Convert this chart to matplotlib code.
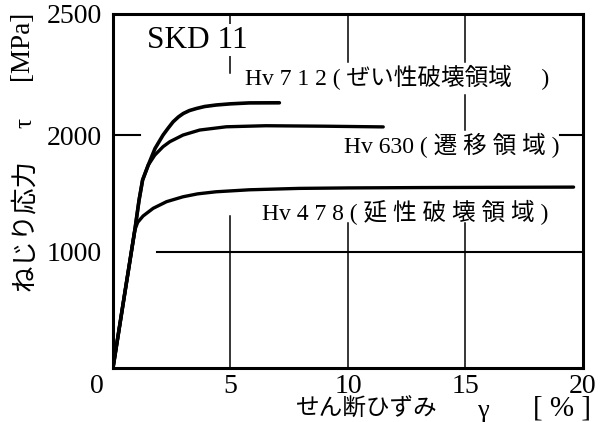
import matplotlib
matplotlib.use("Agg")
import matplotlib.pyplot as plt
from matplotlib.transforms import ScaledTranslation

# ---- data ----
hv478_strain = [0, 0.5, 0.93, 1.05, 1.28, 1.71, 2.28, 2.98, 3.6, 4.39, 5.8, 7.92, 10.0, 13.0, 16.0, 19.6]
hv478_stress = [0, 640, 1185, 1250, 1305, 1371, 1428, 1470, 1495, 1513, 1530, 1542, 1546, 1549, 1551, 1553]

hv630_strain = [0, 0.5, 0.93, 1.11, 1.26, 1.5, 1.78, 2.13, 2.42, 2.98, 3.69, 4.82, 6.5, 9.0, 11.5]
hv630_stress = [0, 640, 1185, 1442, 1614, 1742, 1828, 1900, 1943, 2000, 2043, 2071, 2080, 2076, 2070]

hv712_strain = [0, 0.5, 0.93, 1.11, 1.26, 1.5, 1.79, 2.13, 2.35, 2.56, 2.78, 2.99, 3.25, 3.55, 3.9, 4.39, 5.0, 5.8, 7.08]
hv712_stress = [0, 640, 1185, 1442, 1614, 1742, 1885, 2000, 2060, 2114, 2155, 2185, 2210, 2228, 2245, 2258, 2268, 2276, 2277]

x_ticks = [0, 5, 10, 15, 20]
x_tick_labels = ["0", "5", "10", "15", "20"]
y_ticks = [1000, 2000]
y_tick_labels = ["1000", "2000"]
y_top_label = "2500"

label_712 = "Hv 7 1 2 ( ぜい性破壊領域　 )"
label_630 = "Hv 630 ( 遷 移 領 域 )"
label_478 = "Hv 4 7 8 ( 延 性 破 壊 領 域 )"
title_text = "SKD 11"

SERIF = "Liberation Serif"
CJK = "Noto Sans CJK JP"
MIX = [SERIF, CJK]

Y_TOP = 3040

fig = plt.figure(figsize=(6.01, 4.22), dpi=100)
ax = fig.add_axes([0.188, 0.128, 0.782, 0.839])
ax.set_xlim(0, 20)
ax.set_ylim(0, Y_TOP)

lw = 2.4
ax.plot(hv478_strain, hv478_stress, color="black", lw=lw, solid_capstyle="round",
        solid_joinstyle="round", zorder=5)
ax.plot(hv630_strain, hv630_stress, color="black", lw=lw, solid_capstyle="round",
        solid_joinstyle="round", zorder=5)
ax.plot(hv712_strain, hv712_stress, color="black", lw=lw + 0.2, solid_capstyle="round",
        solid_joinstyle="round", zorder=5)

for s in ax.spines.values():
    s.set_linewidth(2.2)

ax.set_xticks(x_ticks)
ax.set_xticklabels(x_tick_labels, fontfamily=SERIF, fontsize=20)
ax.set_yticks(y_ticks + [Y_TOP])
ax.set_yticklabels(y_tick_labels + [y_top_label], fontfamily=SERIF, fontsize=20)
ax.tick_params(axis="both", length=0)
ax.tick_params(axis="x", pad=4)
ax.tick_params(axis="y", pad=8)
lbl0 = ax.get_xticklabels()[0]
lbl0.set_transform(lbl0.get_transform() + ScaledTranslation(-16 / 100, 0, fig.dpi_scale_trans))

# partial grid lines (as in the reference)
glw = 1.1
ax.axvline(5, ymin=0.0, ymax=0.43, color="black", lw=glw, zorder=1)
ax.axvline(5, ymin=0.833, ymax=1.0, color="black", lw=glw, zorder=1)
ax.axvline(10, ymin=0.0, ymax=0.41, color="black", lw=glw, zorder=1)
ax.axvline(10, ymin=0.864, ymax=1.0, color="black", lw=glw, zorder=1)
ax.axvline(15, ymin=0.0, ymax=0.41, color="black", lw=glw, zorder=1)
ax.axvline(15, ymin=0.672, ymax=0.771, color="black", lw=glw, zorder=1)
ax.axvline(15, ymin=0.864, ymax=1.0, color="black", lw=glw, zorder=1)
ax.axhline(2000, xmin=0.0, xmax=0.057, color="black", lw=glw + 0.4, zorder=1)
ax.axhline(2000, xmin=0.951, xmax=1.0, color="black", lw=glw + 0.4, zorder=1)
ax.axhline(1000, xmin=0.094, xmax=1.0, color="black", lw=glw + 0.4, zorder=1)

# annotations
bbox = dict(facecolor="white", edgecolor="none", pad=1)
ax.text(1.44, 2815, title_text, fontfamily=SERIF, fontsize=22.5, va="center", ha="left",
        bbox=bbox, zorder=3)
ax.text(5.6, 2498, label_712, fontfamily=MIX, fontsize=17, va="center", ha="left", zorder=3)
ax.text(9.83, 1914, label_630, fontfamily=MIX, fontsize=17, va="center", ha="left", zorder=3)
ax.text(6.36, 1339, label_478, fontfamily=MIX, fontsize=17, va="center", ha="left", zorder=3)

# axis labels
fig.text(296 / 601, 1 - 409 / 422, "せん断ひずみ", fontfamily=CJK, fontsize=17, ha="left", va="center")
fig.text(483 / 601, 1 - 411 / 422, "γ", fontfamily=SERIF, fontsize=19, ha="center", va="center")
fig.text(562 / 601, 1 - 409 / 422, "[ % ]", fontfamily=SERIF, fontsize=21, ha="center", va="center")

fig.text(25 / 601, 1 - 225 / 422, "ねじり応力", fontfamily=CJK, fontsize=19, rotation=90,
         ha="center", va="center")
fig.text(25 / 601, 1 - 123 / 422, "τ", fontfamily=SERIF, fontsize=18, rotation=90,
         ha="center", va="center")
fig.text(22 / 601, 1 - 45 / 422, "[MPa]", fontfamily=SERIF, fontsize=19.5, rotation=90,
         ha="center", va="center")

fig.savefig("out.png", dpi=100)
